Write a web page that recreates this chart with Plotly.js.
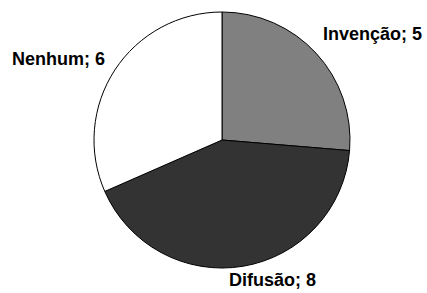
<!DOCTYPE html>
<html>
<head>
<meta charset="utf-8">
<script src="https://cdn.plot.ly/plotly-3.0.1.min.js"></script>
<style>html,body{margin:0;padding:0;background:#fff;}#chart{width:427px;height:293px;}</style>
</head>
<body>
<div id="chart"></div>
<script>
const categories = ['Invenção', 'Difusão', 'Nenhum'];
const values = [5, 8, 6];
const colors = ['#808080', '#333333', '#ffffff'];

const W = 427, H = 293;
const labelPos = [[372, 34], [272, 280], [58, 59]];

const annotations = categories.map((c, i) => ({
  text: c + '; ' + values[i],
  x: labelPos[i][0] / W,
  y: 1 - labelPos[i][1] / H,
  xref: 'paper', yref: 'paper',
  xanchor: 'center', yanchor: 'middle',
  showarrow: false,
  font: {family: 'Liberation Sans, Arial, sans-serif', size: 18, color: '#000', weight: 'bold'}
}));

const cx = 222, cy = 140, r = 128;
Plotly.newPlot('chart', [{
  type: 'pie',
  labels: categories,
  values: values,
  sort: false,
  direction: 'clockwise',
  rotation: 0,
  marker: {colors: colors, line: {color: '#000', width: 1}},
  textinfo: 'none',
  hoverinfo: 'none',
  domain: {x: [(cx - r) / W, (cx + r) / W], y: [1 - (cy + r) / H, 1 - (cy - r) / H]}
}], {
  width: W, height: H,
  margin: {l: 0, r: 0, t: 0, b: 0},
  showlegend: false,
  paper_bgcolor: '#fff',
  annotations: annotations
}, {displayModeBar: false, staticPlot: true});
</script>
</body>
</html>
